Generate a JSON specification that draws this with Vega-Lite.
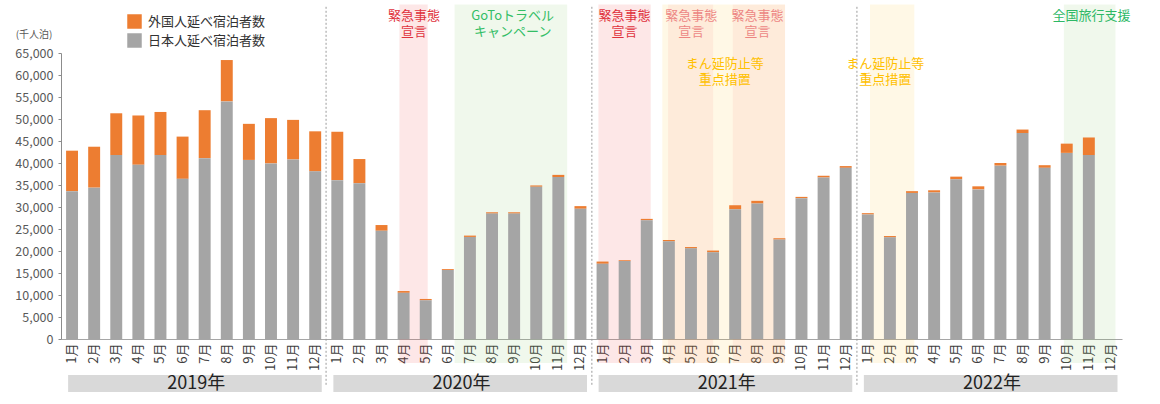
{
  "$schema": "https://vega.github.io/schema/vega-lite/v6.json",
  "width": 1061,
  "height": 286,
  "autosize": {"type": "none"},
  "padding": {"left": 61, "top": 53, "right": 38, "bottom": 65},
  "background": "white",
  "config": {
    "font": "Noto Sans CJK JP",
    "view": {"stroke": null},
    "axis": {"labelFont": "Noto Sans CJK JP", "titleFont": "Noto Sans CJK JP"},
    "legend": {"labelFont": "Noto Sans CJK JP"},
    "text": {"font": "Noto Sans CJK JP"}
  },
  "datasets": {
    "bars": [
      {"ym": "2019-01", "日本人延べ宿泊者数": 33600, "外国人延べ宿泊者数": 9200},
      {"ym": "2019-02", "日本人延べ宿泊者数": 34400, "外国人延べ宿泊者数": 9300},
      {"ym": "2019-03", "日本人延べ宿泊者数": 41800, "外国人延べ宿泊者数": 9500},
      {"ym": "2019-04", "日本人延べ宿泊者数": 39600, "外国人延べ宿泊者数": 11200},
      {"ym": "2019-05", "日本人延べ宿泊者数": 41800, "外国人延べ宿泊者数": 9800},
      {"ym": "2019-06", "日本人延べ宿泊者数": 36400, "外国人延べ宿泊者数": 9600},
      {"ym": "2019-07", "日本人延べ宿泊者数": 41100, "外国人延べ宿泊者数": 10900},
      {"ym": "2019-08", "日本人延べ宿泊者数": 54000, "外国人延べ宿泊者数": 9400},
      {"ym": "2019-09", "日本人延べ宿泊者数": 40700, "外国人延べ宿泊者数": 8200},
      {"ym": "2019-10", "日本人延べ宿泊者数": 39900, "外国人延べ宿泊者数": 10300},
      {"ym": "2019-11", "日本人延べ宿泊者数": 40800, "外国人延べ宿泊者数": 9000},
      {"ym": "2019-12", "日本人延べ宿泊者数": 38100, "外国人延べ宿泊者数": 9100},
      {"ym": "2020-01", "日本人延べ宿泊者数": 36100, "外国人延べ宿泊者数": 11000},
      {"ym": "2020-02", "日本人延べ宿泊者数": 35400, "外国人延べ宿泊者数": 5500},
      {"ym": "2020-03", "日本人延べ宿泊者数": 24600, "外国人延べ宿泊者数": 1300},
      {"ym": "2020-04", "日本人延べ宿泊者数": 10500, "外国人延べ宿泊者数": 400},
      {"ym": "2020-05", "日本人延べ宿泊者数": 8800, "外国人延べ宿泊者数": 300},
      {"ym": "2020-06", "日本人延べ宿泊者数": 15700, "外国人延べ宿泊者数": 200},
      {"ym": "2020-07", "日本人延べ宿泊者数": 23200, "外国人延べ宿泊者数": 300},
      {"ym": "2020-08", "日本人延べ宿泊者数": 28500, "外国人延べ宿泊者数": 300},
      {"ym": "2020-09", "日本人延べ宿泊者数": 28500, "外国人延べ宿泊者数": 300},
      {"ym": "2020-10", "日本人延べ宿泊者数": 34600, "外国人延べ宿泊者数": 300},
      {"ym": "2020-11", "日本人延べ宿泊者数": 36800, "外国人延べ宿泊者数": 500},
      {"ym": "2020-12", "日本人延べ宿泊者数": 29600, "外国人延べ宿泊者数": 600},
      {"ym": "2021-01", "日本人延べ宿泊者数": 17100, "外国人延べ宿泊者数": 500},
      {"ym": "2021-02", "日本人延べ宿泊者数": 17700, "外国人延べ宿泊者数": 200},
      {"ym": "2021-03", "日本人延べ宿泊者数": 27000, "外国人延べ宿泊者数": 300},
      {"ym": "2021-04", "日本人延べ宿泊者数": 22200, "外国人延べ宿泊者数": 300},
      {"ym": "2021-05", "日本人延べ宿泊者数": 20600, "外国人延べ宿泊者数": 300},
      {"ym": "2021-06", "日本人延べ宿泊者数": 19700, "外国人延べ宿泊者数": 400},
      {"ym": "2021-07", "日本人延べ宿泊者数": 29500, "外国人延べ宿泊者数": 900},
      {"ym": "2021-08", "日本人延べ宿泊者数": 30800, "外国人延べ宿泊者数": 600},
      {"ym": "2021-09", "日本人延べ宿泊者数": 22600, "外国人延べ宿泊者数": 300},
      {"ym": "2021-10", "日本人延べ宿泊者数": 32000, "外国人延べ宿泊者数": 300},
      {"ym": "2021-11", "日本人延べ宿泊者数": 36700, "外国人延べ宿泊者数": 400},
      {"ym": "2021-12", "日本人延べ宿泊者数": 38900, "外国人延べ宿泊者数": 400},
      {"ym": "2022-01", "日本人延べ宿泊者数": 28300, "外国人延べ宿泊者数": 300},
      {"ym": "2022-02", "日本人延べ宿泊者数": 23100, "外国人延べ宿泊者数": 300},
      {"ym": "2022-03", "日本人延べ宿泊者数": 33200, "外国人延べ宿泊者数": 400},
      {"ym": "2022-04", "日本人延べ宿泊者数": 33300, "外国人延べ宿泊者数": 500},
      {"ym": "2022-05", "日本人延べ宿泊者数": 36300, "外国人延べ宿泊者数": 600},
      {"ym": "2022-06", "日本人延べ宿泊者数": 34000, "外国人延べ宿泊者数": 700},
      {"ym": "2022-07", "日本人延べ宿泊者数": 39400, "外国人延べ宿泊者数": 600},
      {"ym": "2022-08", "日本人延べ宿泊者数": 46800, "外国人延べ宿泊者数": 800},
      {"ym": "2022-09", "日本人延べ宿泊者数": 38900, "外国人延べ宿泊者数": 600},
      {"ym": "2022-10", "日本人延べ宿泊者数": 42300, "外国人延べ宿泊者数": 2100},
      {"ym": "2022-11", "日本人延べ宿泊者数": 41800, "外国人延べ宿泊者数": 4000}
    ],
    "shades": [
      {"start": "2021-04-08", "end": "2021-09-24", "kind": "まん延防止等重点措置"},
      {"start": "2022-01-19", "end": "2022-03-21", "kind": "まん延防止等重点措置"},
      {"start": "2020-04-11", "end": "2020-05-20", "kind": "緊急事態宣言"},
      {"start": "2021-01-10", "end": "2021-03-23", "kind": "緊急事態宣言"},
      {"start": "2021-04-16", "end": "2021-06-17", "kind": "緊急事態宣言"},
      {"start": "2021-07-14", "end": "2021-09-24", "kind": "緊急事態宣言"},
      {"start": "2020-06-26", "end": "2020-11-28", "kind": "GoToトラベル"},
      {"start": "2022-10-13", "end": "2022-12-23", "kind": "全国旅行支援"}
    ],
    "notes": [
      {"date": "2020-05-01", "label": "緊急事態\n宣言", "kind": "緊急事態宣言", "row": "top"},
      {"date": "2020-09-14", "label": "GoToトラベル\nキャンペーン", "kind": "GoToトラベル", "row": "top"},
      {"date": "2021-02-15", "label": "緊急事態\n宣言", "kind": "緊急事態宣言", "row": "top"},
      {"date": "2021-05-18", "label": "緊急事態\n宣言", "kind": "緊急事態宣言", "row": "top"},
      {"date": "2021-08-17", "label": "緊急事態\n宣言", "kind": "緊急事態宣言", "row": "top"},
      {"date": "2021-07-03", "label": "まん延防止等\n重点措置", "kind": "まん延防止等重点措置", "row": "lower"},
      {"date": "2022-02-09", "label": "まん延防止等\n重点措置", "kind": "まん延防止等重点措置", "row": "lower"},
      {"date": "2022-11-20", "label": "全国旅行支援", "kind": "全国旅行支援", "row": "top"}
    ],
    "bounds": [{"date": "2020-01-01"}, {"date": "2021-01-01"}, {"date": "2022-01-01"}],
    "years": [
      {"year": "2019年", "first": "2019-01", "mid": "2019-07", "last": "2019-12"},
      {"year": "2020年", "first": "2020-01", "mid": "2020-07", "last": "2020-12"},
      {"year": "2021年", "first": "2021-01", "mid": "2021-07", "last": "2021-12"},
      {"year": "2022年", "first": "2022-01", "mid": "2022-07", "last": "2022-12"}
    ]
  },
  "layer": [
    {
      "data": {"name": "shades"},
      "mark": {"type": "rect"},
      "encoding": {
        "x": {"field": "start", "type": "temporal", "scale": {"type": "utc", "domain": [{"year": 2019, "month": 1, "date": 1, "utc": true}, {"year": 2023, "month": 1, "date": 1, "utc": true}]}, "axis": null},
        "x2": {"field": "end"},
        "y": {"datum": 76000, "type": "quantitative", "scale": {"domain": [0, 65000], "nice": false}, "axis": null},
        "y2": {"datum": -5450},
        "fill": {"field": "kind", "type": "nominal", "scale": {"domain": ["緊急事態宣言", "GoToトラベル", "まん延防止等重点措置", "全国旅行支援"], "range": ["#EE3737", "#82C561", "#FFC52F", "#82C561"]}, "legend": null},
        "fillOpacity": {"condition": {"test": "datum.kind == '緊急事態宣言' && +datum.start > utc(2021, 3, 10) && +datum.start < utc(2021, 9, 1)", "value": 0.065}, "value": 0.12}
      }
    },
    {
      "data": {"name": "bounds"},
      "mark": {"type": "rule", "color": "#9A9A9A", "strokeDash": [2, 2], "strokeWidth": 1},
      "encoding": {
        "x": {"field": "date", "type": "temporal", "scale": {"type": "utc", "domain": [{"year": 2019, "month": 1, "date": 1, "utc": true}, {"year": 2023, "month": 1, "date": 1, "utc": true}]}, "axis": null},
        "y": {"datum": 75500, "type": "quantitative", "scale": {"domain": [0, 65000], "nice": false}, "axis": null},
        "y2": {"datum": -10500}
      }
    },
    {
      "data": {"name": "notes"},
      "transform": [{"filter": "datum.row == 'top'"}],
      "mark": {"type": "text", "baseline": "top", "align": "center", "fontSize": 13, "lineBreak": "\n", "lineHeight": 16},
      "encoding": {
        "x": {"field": "date", "type": "temporal", "scale": {"type": "utc", "domain": [{"year": 2019, "month": 1, "date": 1, "utc": true}, {"year": 2023, "month": 1, "date": 1, "utc": true}]}, "axis": null},
        "y": {"datum": 74700, "type": "quantitative", "scale": {"domain": [0, 65000], "nice": false}, "axis": null},
        "text": {"field": "label"},
        "color": {"field": "kind", "type": "nominal", "scale": {"domain": ["緊急事態宣言", "GoToトラベル", "まん延防止等重点措置", "全国旅行支援"], "range": ["#E0323C", "#33BE66", "#FFC000", "#2DB865"]}, "legend": null},
        "opacity": {"condition": {"test": "datum.kind == '緊急事態宣言' && +datum.date > utc(2021, 3, 1) && +datum.date < utc(2021, 9, 30)", "value": 0.55}, "value": 1}
      }
    },
    {
      "data": {"name": "notes"},
      "transform": [{"filter": "datum.row == 'lower'"}],
      "mark": {"type": "text", "baseline": "top", "align": "center", "fontSize": 13, "lineBreak": "\n", "lineHeight": 16},
      "encoding": {
        "x": {"field": "date", "type": "temporal", "scale": {"type": "utc", "domain": [{"year": 2019, "month": 1, "date": 1, "utc": true}, {"year": 2023, "month": 1, "date": 1, "utc": true}]}, "axis": null},
        "y": {"datum": 63800, "type": "quantitative", "scale": {"domain": [0, 65000], "nice": false}, "axis": null},
        "text": {"field": "label"},
        "color": {"field": "kind", "type": "nominal", "scale": {"domain": ["緊急事態宣言", "GoToトラベル", "まん延防止等重点措置", "全国旅行支援"], "range": ["#E0323C", "#33BE66", "#FFC000", "#2DB865"]}, "legend": null}
      }
    },
    {
      "data": {"name": "bars"},
      "transform": [{"fold": ["外国人延べ宿泊者数", "日本人延べ宿泊者数"], "as": ["type", "v"]}],
      "mark": {"type": "bar"},
      "encoding": {
        "x": {
          "field": "ym", "type": "ordinal",
          "scale": {
            "type": "band",
            "domain": ["2019-01","2019-02","2019-03","2019-04","2019-05","2019-06","2019-07","2019-08","2019-09","2019-10","2019-11","2019-12",
                       "2020-01","2020-02","2020-03","2020-04","2020-05","2020-06","2020-07","2020-08","2020-09","2020-10","2020-11","2020-12",
                       "2021-01","2021-02","2021-03","2021-04","2021-05","2021-06","2021-07","2021-08","2021-09","2021-10","2021-11","2021-12",
                       "2022-01","2022-02","2022-03","2022-04","2022-05","2022-06","2022-07","2022-08","2022-09","2022-10","2022-11","2022-12"],
            "paddingInner": 0.46, "paddingOuter": 0.23
          },
          "axis": {
            "title": null, "labelAngle": -90, "ticks": false, "domainColor": "#A6A6A6",
            "labelFontSize": 13, "labelColor": "#404040", "labelPadding": 4,
            "labelExpr": "toNumber(substring(datum.value, 5)) + '月'"
          }
        },
        "y": {
          "field": "v", "type": "quantitative", "stack": "zero",
          "scale": {"domain": [0, 65000], "nice": false},
          "axis": {
            "orient": "left",
            "values": [0, 5000, 10000, 15000, 20000, 25000, 30000, 35000, 40000, 45000, 50000, 55000, 60000, 65000],
            "format": ",d", "grid": false, "tickSize": 3, "tickColor": "#8C8C8C", "domainColor": "#8C8C8C",
            "labelColor": "#595959", "labelFontSize": 12.5, "labelPadding": 5, "labelOverlap": false,
            "title": "(千人泊)", "titleAngle": 0, "titleAlign": "right", "titleBaseline": "middle",
            "titleX": -9, "titleY": -19, "titleFontSize": 10, "titleFontWeight": "normal", "titleColor": "#595959"
          }
        },
        "color": {
          "field": "type", "type": "nominal",
          "scale": {"domain": ["外国人延べ宿泊者数", "日本人延べ宿泊者数"], "range": ["#ED7D31", "#A5A5A5"]},
          "legend": {
            "orient": "none", "legendX": 66, "legendY": -39, "title": null, "padding": 0,
            "symbolType": "square", "symbolSize": 210, "symbolStrokeWidth": 0,
            "labelFontSize": 13, "labelColor": "#333333", "rowPadding": 4, "labelOffset": 6
          }
        },
        "order": {"field": "type", "sort": "descending"}
      }
    },
    {
      "data": {"name": "years"},
      "mark": {"type": "rect", "color": "#D9D9D9"},
      "encoding": {
        "x": {
          "field": "first", "type": "ordinal", "bandPosition": 0.17,
          "scale": {
            "type": "band",
            "domain": ["2019-01","2019-02","2019-03","2019-04","2019-05","2019-06","2019-07","2019-08","2019-09","2019-10","2019-11","2019-12",
                       "2020-01","2020-02","2020-03","2020-04","2020-05","2020-06","2020-07","2020-08","2020-09","2020-10","2020-11","2020-12",
                       "2021-01","2021-02","2021-03","2021-04","2021-05","2021-06","2021-07","2021-08","2021-09","2021-10","2021-11","2021-12",
                       "2022-01","2022-02","2022-03","2022-04","2022-05","2022-06","2022-07","2022-08","2022-09","2022-10","2022-11","2022-12"],
            "paddingInner": 0.46, "paddingOuter": 0.23
          },
          "axis": null
        },
        "x2": {"field": "last", "bandPosition": 1.05},
        "y": {"datum": -8200, "type": "quantitative", "scale": {"domain": [0, 65000], "nice": false}, "axis": null},
        "y2": {"datum": -12050}
      }
    },
    {
      "data": {"name": "years"},
      "mark": {"type": "text", "fontSize": 18, "color": "#222222", "baseline": "middle", "align": "center"},
      "encoding": {
        "x": {
          "field": "mid", "type": "ordinal", "bandPosition": -0.2,
          "scale": {
            "type": "band",
            "domain": ["2019-01","2019-02","2019-03","2019-04","2019-05","2019-06","2019-07","2019-08","2019-09","2019-10","2019-11","2019-12",
                       "2020-01","2020-02","2020-03","2020-04","2020-05","2020-06","2020-07","2020-08","2020-09","2020-10","2020-11","2020-12",
                       "2021-01","2021-02","2021-03","2021-04","2021-05","2021-06","2021-07","2021-08","2021-09","2021-10","2021-11","2021-12",
                       "2022-01","2022-02","2022-03","2022-04","2022-05","2022-06","2022-07","2022-08","2022-09","2022-10","2022-11","2022-12"],
            "paddingInner": 0.46, "paddingOuter": 0.23
          },
          "axis": null
        },
        "y": {"datum": -10230, "type": "quantitative", "scale": {"domain": [0, 65000], "nice": false}, "axis": null},
        "text": {"field": "year"}
      }
    }
  ],
  "resolve": {
    "scale": {"x": "independent", "y": "independent", "color": "independent"},
    "axis": {"x": "independent", "y": "independent"}
  }
}
